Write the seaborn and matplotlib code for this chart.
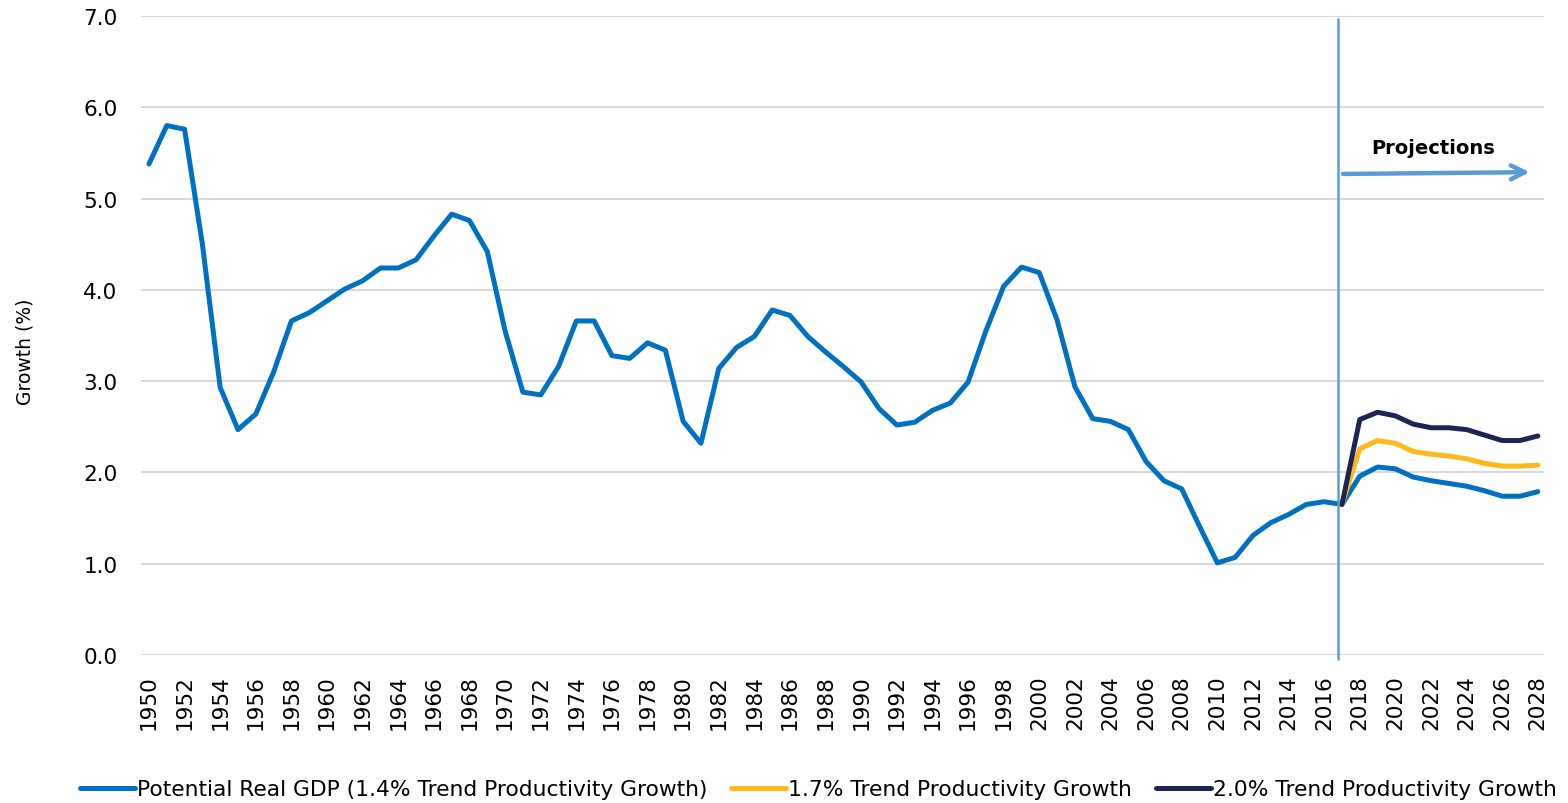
import numpy as np
import pandas as pd
import matplotlib
matplotlib.use('Agg')
import matplotlib.pyplot as plt
import seaborn as sns

# ---- Data ----
years = list(range(1950, 2029))
potential_gdp = [
    5.38, 5.80, 5.76, 4.50, 2.93, 2.47, 2.64, 3.10, 3.66, 3.75,   # 1950-59
    3.88, 4.01, 4.10, 4.24, 4.24, 4.33, 4.59, 4.83, 4.76, 4.42,   # 1960-69
    3.55, 2.88, 2.85, 3.16, 3.66, 3.66, 3.28, 3.25, 3.42, 3.34,   # 1970-79
    2.56, 2.32, 3.14, 3.37, 3.49, 3.78, 3.72, 3.49, 3.32, 3.16,   # 1980-89
    2.99, 2.70, 2.52, 2.55, 2.68, 2.76, 2.99, 3.55, 4.04, 4.25,   # 1990-99
    4.19, 3.67, 2.94, 2.59, 2.56, 2.47, 2.12, 1.91, 1.82, 1.41,   # 2000-09
    1.01, 1.07, 1.31, 1.45, 1.54, 1.65, 1.68, 1.65, 1.96, 2.06,   # 2010-19
    2.04, 1.95, 1.91, 1.88, 1.85, 1.80, 1.74, 1.74, 1.79,         # 2020-28
]
proj_years = list(range(2017, 2029))
trend_17 = [1.65, 2.26, 2.35, 2.32, 2.23, 2.20, 2.18, 2.15, 2.10, 2.07, 2.07, 2.08]
trend_20 = [1.65, 2.58, 2.66, 2.62, 2.53, 2.49, 2.49, 2.47, 2.41, 2.35, 2.35, 2.40]

labels = ['Potential Real GDP (1.4% Trend Productivity Growth)',
          '1.7% Trend Productivity Growth',
          '2.0% Trend Productivity Growth']
colors = ['#0070C0', '#FFB81C', '#1F2456']

y_ticks = np.arange(0, 7.5, 1.0)
x_ticks = list(range(1950, 2029, 2))

# ---- Plot ----
sns.set_style('white')
plt.rcParams['font.family'] = ['DejaVu Sans']
plt.rcParams['text.color'] = 'black'
plt.rcParams['xtick.color'] = 'black'
plt.rcParams['ytick.color'] = 'black'
plt.rcParams['axes.labelcolor'] = 'black'

fig = plt.figure(figsize=(15.68, 8.04), dpi=100)
ax = fig.add_axes([0.0899, 0.184, 0.8945, 0.7948])

sns.lineplot(x=years, y=potential_gdp, ax=ax, color=colors[0], lw=3.6,
             label=labels[0], solid_capstyle='round', zorder=3)
sns.lineplot(x=proj_years, y=trend_17, ax=ax, color=colors[1], lw=3.6,
             label=labels[1], solid_capstyle='round', zorder=4)
sns.lineplot(x=proj_years, y=trend_20, ax=ax, color=colors[2], lw=3.6,
             label=labels[2], solid_capstyle='round', zorder=5)

ax.set_xlim(1949.55, 2028.32)
ax.set_ylim(0, 7)
ax.set_yticks(y_ticks)
ax.set_yticklabels([f'{v:.1f}' for v in y_ticks])
ax.set_xticks(x_ticks)
ax.set_xticklabels([str(y) for y in x_ticks], rotation=90)
ax.tick_params(axis='y', length=0, pad=17, labelsize=15.5)
ax.tick_params(axis='x', length=0, pad=14, labelsize=15.5)
ax.grid(axis='y', color='#D9D9D9', lw=1.5)
ax.set_axisbelow(True)
for s in ax.spines.values():
    s.set_visible(False)

ax.set_xlabel('')
ax.set_ylabel('Growth (%)', fontsize=13.5)
ax.yaxis.set_label_coords(-0.076, 0.476)

# projections marker
ax.axvline(2016.8, ymin=-0.006, ymax=0.995, color='#5B9BD5', lw=1.8,
           clip_on=False, zorder=6)
ax.annotate('', xy=(2027.7, 5.29), xytext=(2016.9, 5.27),
            arrowprops=dict(arrowstyle='->,head_length=1.0,head_width=0.5',
                            color='#5B9BD5', lw=3.2))
ax.text(2022.1, 5.56, 'Projections', ha='center', va='center',
        fontsize=14, fontweight='bold')

ax.get_legend().remove()
handles, labs = ax.get_legend_handles_labels()
fig.legend(handles, labs, loc='center', bbox_to_anchor=(0.522, 0.017), ncol=3,
           frameon=False, fontsize=15.7, handlelength=2.5, handletextpad=0.1,
           columnspacing=1.1, borderaxespad=0)

plt.savefig('out.png', dpi=100)
